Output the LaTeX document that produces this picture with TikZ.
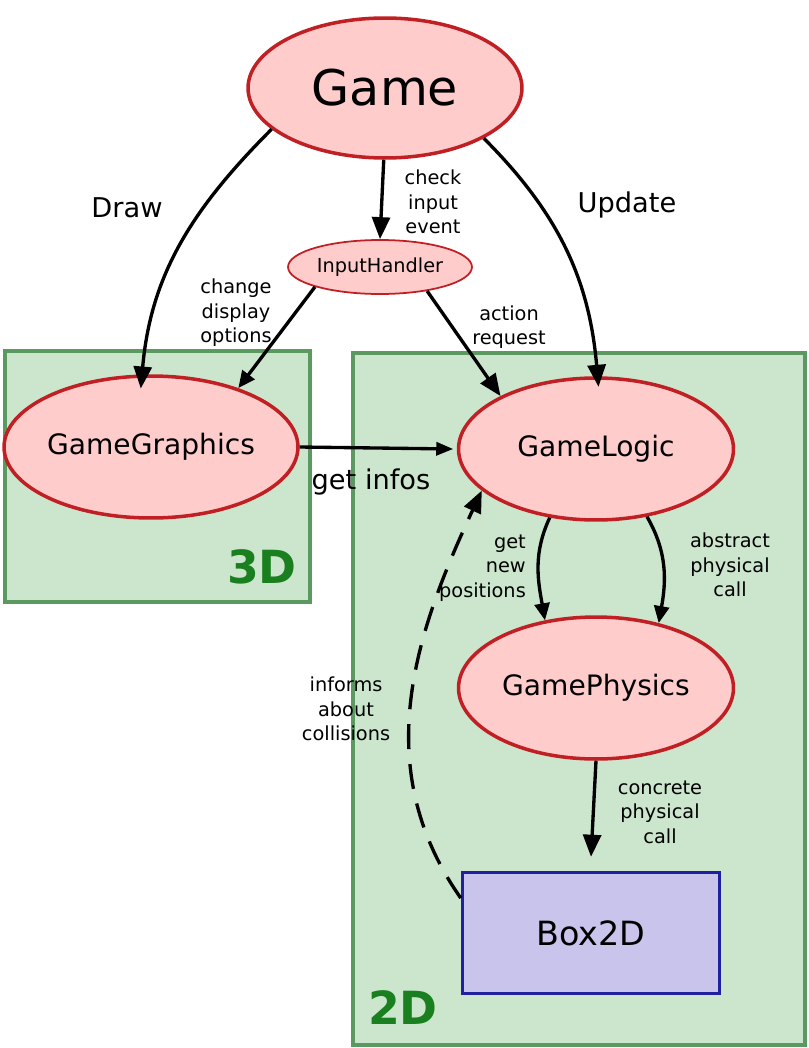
\documentclass[tikz,border=0pt]{standalone}
\usepackage{fontspec}
\setmainfont{DejaVu Sans}
\usetikzlibrary{shapes.geometric, arrows.meta, positioning}
\definecolor{nodefill}{RGB}{255, 204, 204}
\definecolor{nodeline}{RGB}{192, 32, 36}
\definecolor{boxfill}{RGB}{200, 196, 236}
\definecolor{boxline}{RGB}{32, 32, 160}
\definecolor{areafill}{RGB}{204, 230, 206}
\definecolor{arealine}{RGB}{90, 154, 96}
\definecolor{areatext}{RGB}{26, 127, 30}

\tikzset{
  comp/.style={ellipse, draw=nodeline, fill=nodefill, line width=2pt, inner sep=0pt,
    minimum width=5.5cm, minimum height=2.84cm, font=\fontsize{16}{19}\selectfont},
  area/.style={draw=arealine, fill=areafill, line width=2pt},
  flow/.style={line width=1.9pt, -{Triangle[length=0.44cm, width=0.36cm]}},
  lbl/.style={font=\fontsize{11}{14}\selectfont, align=center},
  biglbl/.style={font=\fontsize{15.5}{18}\selectfont},
  arealbl/.style={font=\fontsize{26}{29}\selectfont\bfseries, text=areatext}
}

\begin{document}
\begin{tikzpicture}[x=0.02cm, y=-0.02cm]
  \useasboundingbox (0, 0) rectangle (808, 1048);

  % areas
  \draw[area] (5, 351) rectangle (310, 602);
  \draw[area] (353, 353) rectangle (805, 1045);
  \node[arealbl] (lbl3d) at (262, 567) {3D};
  \node[arealbl] (lbl2d) at (403, 1008) {2D};

  % components
  \node[comp, minimum width=5.48cm, minimum height=2.8cm, font=\fontsize{28}{31}\selectfont] (game) at (385, 88) {Game};
  \node[comp, line width=1pt, minimum width=3.68cm, minimum height=1.08cm, font=\fontsize{11}{13}\selectfont] (input) at (380, 267) {InputHandler};
  \node[comp] (graphics) at (151, 447) {GameGraphics};
  \node[comp] (logic) at (596, 449) {GameLogic};
  \node[comp] (physics) at (596, 688) {GamePhysics};
  \node[draw=boxline, fill=boxfill, line width=2pt, minimum width=5.14cm, minimum height=2.42cm,
    font=\fontsize{19}{22}\selectfont] (box2d) at (591, 933) {Box2D};

  % connectors
  \draw[flow] (game.200) to[out=225, in=85] ([yshift=-8]graphics.98);
  \draw[flow] (game.333) to[out=-45, in=95] ([yshift=-6]logic.88);
  \draw[flow] (game.269) -- (input.90);
  \draw[flow, -{Triangle[length=0.34cm, width=0.3cm]}] (input.197) -- (graphics.34);
  \draw[flow] (input.333) -- (logic.151);
  \draw[flow, -{Triangle[length=0.34cm, width=0.26cm]}] (graphics.east) -- ([xshift=-2]logic.west);
  \draw[flow, -{Triangle[length=0.34cm, width=0.3cm]}] (logic.236) to[out=245, in=100] (physics.127);
  \draw[flow, -{Triangle[length=0.34cm, width=0.3cm]}] (logic.307) to[out=300, in=80] (physics.46);
  \draw[flow] (physics.south) -- ([yshift=8]box2d.north);
  \draw[flow, dashed, dash pattern=on 0.5cm off 0.3cm] (box2d.165) to[out=125, in=245] (logic.200);

  % labels
  \node[biglbl] (tdraw) at (127, 208) {Draw};
  \node[biglbl] (tupdate) at (627, 205) {Update};
  \node[biglbl] (tinfos) at (371, 482) {get infos};
  \node[lbl] (tcheck) at (433, 202) {check\\input\\event};
  \node[lbl] (tchange) at (236, 313) {change\\display\\options};
  \node[lbl] (taction) at (509, 327) {action\\request};
  \node[lbl, align=right, anchor=east] (tpos) at (532, 568) {get\\new\\positions};
  \node[lbl] (tabstract) at (730, 565) {abstract\\physical\\call};
  \node[lbl] (tconcrete) at (660, 812) {concrete\\physical\\call};
  \node[lbl] (tinforms) at (346, 709) {informs\\about\\collisions};
\end{tikzpicture}
\end{document}
